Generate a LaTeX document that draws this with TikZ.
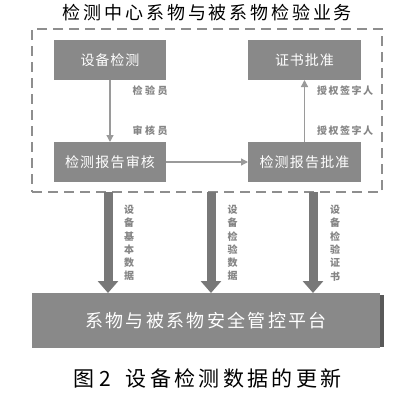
\documentclass[tikz,border=0pt]{standalone}
\usepackage{fontspec}
\newfontfamily\cjk{Noto Sans CJK SC}
\usetikzlibrary{arrows.meta}
\ExplSyntaxOn
\seq_new:N \l_my_chars_seq
\NewDocumentCommand{\spreadto}{m m}{
  \seq_clear:N \l_my_chars_seq
  \tl_map_inline:nn {#2} { \seq_put_right:Nn \l_my_chars_seq {##1} }
  \makebox[#1][s]{ \seq_use:Nn \l_my_chars_seq { \hfil } }
}
\ExplSyntaxOff
\definecolor{boxgray}{HTML}{898989}
\definecolor{thingray}{HTML}{9A9A9A}
\definecolor{thickgray}{HTML}{787878}
\definecolor{labelgray}{HTML}{858585}
\definecolor{framegray}{HTML}{8E8E8E}
\begin{document}
\begin{tikzpicture}[x=1pt,y=-1pt,
  every node/.style={font=\cjk, inner sep=0pt, outer sep=0pt},
  procbox/.style={rectangle, fill=boxgray, text=white, minimum height=40pt, font=\cjk\fontsize{14}{16}\selectfont},
  thinarrow/.style={draw=thingray, line width=1.3pt, -{Triangle[width=7pt,length=7pt]}},
  thickarrow/.style={draw=thickgray, line width=9pt, -{Triangle[width=20pt,length=12pt]}},
  smalllabel/.style={text=labelgray, font=\cjk\bfseries\fontsize{10}{12}\selectfont},
  vlabel/.style={text=labelgray, align=center, font=\cjk\bfseries\fontsize{10}{13.3}\selectfont}
]
\useasboundingbox[fill=white] (0,0) rectangle (413,402);

% title
\node (title) at (207.5,13) {\fontsize{18}{20}\selectfont\spreadto{289pt}{检测中心系物与被系物检验业务}};

% dashed frame
\node (frame) [rectangle, draw=framegray, line width=2.5pt, dash pattern=on 10pt off 6pt,
  minimum width=350pt, minimum height=163pt] at (207,110.5) {};

% process boxes
\node (sb) [procbox, minimum width=112pt] at (110,60) {\spreadto{59pt}{设备检测}};
\node (zs) [procbox, minimum width=113pt] at (304.5,60) {\spreadto{59pt}{证书批准}};
\node (sh) [procbox, minimum width=112pt] at (110,162) {\spreadto{90pt}{检测报告审核}};
\node (pz) [procbox, minimum width=113pt] at (304.5,162) {\spreadto{90pt}{检测报告批准}};

% thin arrows
\draw[thinarrow] (sb) -- (sh);
\draw[thinarrow] (sh) -- (pz);
\draw[thinarrow] (pz) -- (zs);

% small labels
\node (l1) [smalllabel] at (150,91) {\spreadto{35pt}{检验员}};
\node (l2) [smalllabel] at (150,131) {\spreadto{35pt}{审核员}};
\node (l3) [smalllabel] at (345,91) {\spreadto{56pt}{授权签字人}};
\node (l4) [smalllabel] at (345,131) {\spreadto{56pt}{授权签字人}};

% platform
\fill[black!65] (379,295) rectangle (384,347);
\node (plat) [rectangle, fill=boxgray, text=white, minimum width=348pt, minimum height=55pt,
  font=\cjk\fontsize{18}{20}\selectfont] at (206,320.5) {\raisebox{-2pt}{\spreadto{242pt}{系物与被系物安全管控平台}}};

% thick arrows
\coordinate (t1) at (frame.south -| 108,0);
\coordinate (t2) at (frame.south -| 211,0);
\coordinate (t3) at (frame.south -| 313,0);
\draw[thickarrow] (t1) -- (t1 |- plat.north);
\draw[thickarrow] (t2) -- (t2 |- plat.north);
\draw[thickarrow] (t3) -- (t3 |- plat.north);

% vertical labels
\node (v1) [vlabel] at (129,243) {设\\备\\基\\本\\数\\据};
\node (v2) [vlabel] at (232.5,243) {设\\备\\检\\验\\数\\据};
\node (v3) [vlabel] at (335,243) {设\\备\\检\\验\\证\\书};

% caption
\node (cap) [anchor=west, font=\cjk\fontsize{21}{24}\selectfont] at (74,378)
  {图\hspace{5pt}2\hspace{14pt}\spreadto{216pt}{设备检测数据的更新}};
\end{tikzpicture}
\end{document}
